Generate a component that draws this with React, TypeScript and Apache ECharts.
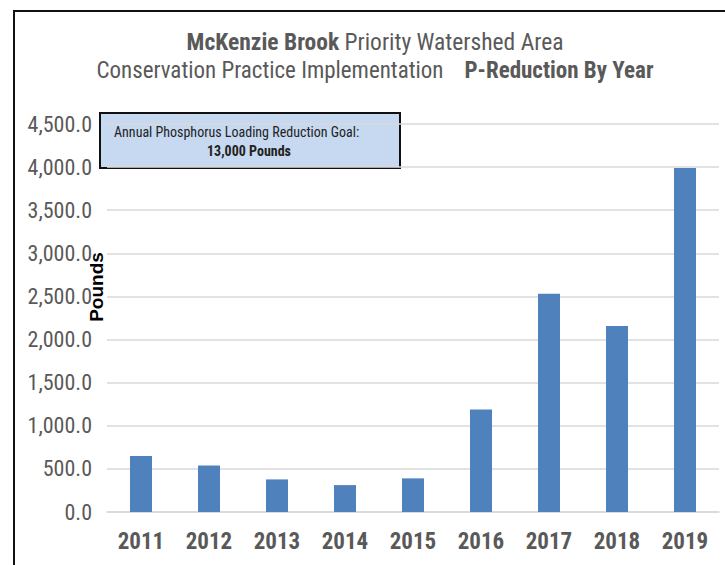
import React, { useEffect, useRef } from "react";
import * as echarts from "echarts";

const years = ["2011", "2012", "2013", "2014", "2015", "2016", "2017", "2018", "2019"];
const reductionPounds = [650, 540, 378, 312, 390, 1188, 2530, 2157, 3990];
const titleLine1Bold = "McKenzie Brook";
const titleLine1Rest = " Priority Watershed Area";
const titleLine2Rest = "Conservation Practice Implementation    ";
const titleLine2Bold = "P-Reduction By Year";
const goalLine1 = "Annual Phosphorus Loading Reduction Goal:";
const goalLine2 = "13,000 Pounds";
const yAxisName = "Pounds";

const FONT = "'Roboto Condensed', 'Liberation Sans Narrow', 'Arial Narrow', sans-serif";
const GRAY = "#595959";

export default function App() {
  const ref = useRef<HTMLDivElement>(null);
  useEffect(() => {
    document.body.style.margin = "0";
    const chart = echarts.init(ref.current!, null, { renderer: "svg" });
    chart.setOption({
      animation: false,
      backgroundColor: "#ffffff",
      grid: { left: 107, right: 6, top: 124, bottom: 53, containLabel: false },
      xAxis: {
        type: "category",
        data: years,
        axisTick: { show: false },
        axisLine: { lineStyle: { color: "#d9d9d9", width: 1.5 } },
        axisLabel: {
          color: GRAY,
          fontFamily: FONT,
          fontSize: 23,
          fontWeight: "bold",
          margin: 18,
        },
      },
      yAxis: {
        type: "value",
        min: 0,
        max: 4500,
        interval: 500,
        axisLine: { show: false },
        axisTick: { show: false },
        splitLine: { lineStyle: { color: "#d9d9d9", width: 1.5 } },
        axisLabel: {
          color: GRAY,
          fontFamily: FONT,
          fontSize: 22,
          margin: 15,
          formatter: (v: number) =>
            v.toLocaleString("en-US", { minimumFractionDigits: 1, maximumFractionDigits: 1 }),
        },
      },
      series: [
        {
          type: "bar",
          data: reductionPounds,
          barWidth: 22,
          itemStyle: { color: "#4f81bd" },
        },
      ],
      graphic: [
        {
          type: "rect",
          shape: { x: 14, y: 11, width: 800, height: 700 },
          style: { fill: "none", stroke: "#111", lineWidth: 2 },
          silent: true,
        },
        {
          type: "text",
          x: 375,
          y: 42,
          style: {
            text: `{b|${titleLine1Bold}}{n|${titleLine1Rest}}`,
            align: "center",
            verticalAlign: "middle",
            rich: {
              b: { fontFamily: FONT, fontSize: 23.5, fontWeight: "bold", fill: GRAY },
              n: { fontFamily: FONT, fontSize: 23.5, fill: GRAY },
            },
          },
        },
        {
          type: "text",
          x: 375,
          y: 70,
          style: {
            text: `{n|${titleLine2Rest}}{b|${titleLine2Bold}}`,
            align: "center",
            verticalAlign: "middle",
            rich: {
              b: { fontFamily: FONT, fontSize: 23, fontWeight: "bold", fill: GRAY },
              n: { fontFamily: FONT, fontSize: 23, fill: GRAY },
            },
          },
        },
        {
          type: "text",
          x: 96,
          y: 287,
          rotation: Math.PI / 2,
          style: {
            text: yAxisName,
            align: "center",
            verticalAlign: "middle",
            fontFamily: "'Liberation Sans', Arial, sans-serif",
            fontSize: 19,
            fontWeight: "bold",
            fill: "#000",
          },
        },
        {
          type: "rect",
          shape: { x: 100, y: 113, width: 300, height: 55 },
          style: { fill: "#c6d9f1", stroke: "#111", lineWidth: 2 },
        },
        {
          type: "text",
          x: 114,
          y: 132,
          style: {
            text: goalLine1,
            align: "left",
            verticalAlign: "middle",
            fontFamily: FONT,
            fontSize: 14,
            fill: "#222",
          },
        },
        {
          type: "text",
          x: 249,
          y: 151,
          style: {
            text: goalLine2,
            align: "center",
            verticalAlign: "middle",
            fontFamily: FONT,
            fontSize: 14,
            fontWeight: "bold",
            fill: "#222",
          },
        },
      ],
    });
    return () => chart.dispose();
  }, []);
  return <div ref={ref} style={{ width: 725, height: 565 }} />;
}
